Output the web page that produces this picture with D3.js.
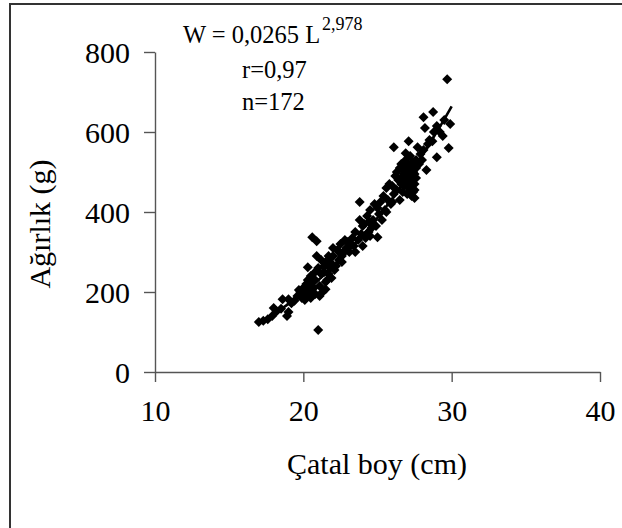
<!DOCTYPE html>
<html>
<head>
<meta charset="utf-8">
<script src="https://cdn.jsdelivr.net/npm/d3@7/dist/d3.min.js"></script>
<style>
  html, body { margin: 0; padding: 0; background: #fff; }
  svg { display: block; }
  svg text { font-family: "Liberation Serif", "Times New Roman", serif !important; fill: #000; }
</style>
</head>
<body>
<svg id="chart" width="622" height="528"></svg>
<script>
// ---- Data ----
const lengthCm = [
  17.0,17.3,17.6,17.9,18.0,18.2,18.5,18.6,18.9,19.0,19.0,19.2,19.4,
  19.6,19.8,19.9,20.0,20.0,20.1,20.2,20.2,20.3,20.3,20.4,20.4,20.5,20.5,20.6,20.6,
  20.7,20.8,20.8,20.9,20.9,21.0,21.1,21.0,21.1,21.3,21.2,21.5,21.6,21.4,21.5,21.7,21.8,21.9,21.5,22.0,21.9,22.1,
  21.7,22.2,22.0,22.4,22.3,22.6,22.5,22.7,22.6,22.8,22.9,23.0,23.1,23.2,23.3,23.4,
  23.5,23.5,23.7,23.8,23.9,23.8,24.0,24.1,24.2,24.3,24.4,24.4,24.5,24.6,24.7,24.8,24.9,25.0,25.0,25.1,
  25.3,25.4,25.5,25.6,25.7,25.8,25.9,26.0,26.1,26.2,26.3,26.4,26.5,26.5,
  26.6,26.6,26.7,26.7,26.8,26.8,26.9,26.9,27.0,27.0,27.0,27.1,27.1,27.2,27.2,27.3,27.3,27.4,27.4,27.5,27.5,27.6,27.6,26.1,26.9,27.1,27.7,27.3,27.5,
  27.8,27.9,28.0,28.1,28.2,28.1,28.3,28.4,28.5,28.7,28.75,28.8,29.0,29.0,29.2,29.4,29.5,29.7,29.8,29.9,
  19.7,20.1,20.6,20.8,21.2,21.4,21.8,22.4,
  24.0,24.5,25.2,25.6,26.0,26.3,
  26.8,27.0,27.2,27.4,27.6,26.7,27.1,27.5
];
const weightG = [
  125,128,132,140,160,152,158,182,140,150,182,172,178,
  190,200,185,210,195,205,220,190,262,230,215,200,240,185,337,225,
  210,195,250,327,290,105,215,260,190,200,280,207,230,250,275,245,260,235,225,290,270,255,
  290,265,310,280,305,275,320,300,290,330,310,325,300,320,335,315,
  300,350,330,380,345,425,315,370,335,390,350,375,405,360,380,420,365,337,410,395,
  380,440,405,460,430,470,420,465,445,490,455,480,510,430,
  470,520,450,490,505,465,480,530,445,500,470,515,460,490,540,475,505,450,525,495,470,510,485,562,547,577,562,440,435,
  520,545,530,555,610,637,505,570,580,577,650,600,537,615,600,590,630,732,560,620,
  205,180,200,230,245,265,275,300,
  365,340,425,400,425,500,
  495,520,465,500,530,510,485,455
];
// Fitted model shown on the chart: W = a L^b
const fitA = 0.0265, fitB = 2.978;
const fitLengths = [17,17.5,18,18.5,19,19.5,20,20.5,21,21.5,22,22.5,23,23.5,24,24.5,25,25.5,26,26.5,27,27.5,28,28.5,29,29.5,30];
const xTicks = [10, 20, 30, 40];
const yTicks = [0, 200, 400, 600, 800];
const labels = { eq: "W = 0,0265 L", exp: "2,978", r: "r=0,97", n: "n=172", x: "Çatal boy (cm)", y: "Ağırlık (g)" };

// ---- Drawing ----
const FONT = "'Liberation Serif', 'Times New Roman', serif";
const svg = d3.select("#chart");
// outer frame (only left/top visible inside the picture)
svg.append("rect").attr("x", 10).attr("y", 4).attr("width", 640).attr("height", 560)
  .attr("fill", "none").attr("stroke", "#333").attr("stroke-width", 2);

const x = d3.scaleLinear().domain([10, 40]).range([155, 600]);
const y = d3.scaleLinear().domain([0, 800]).range([372, 52]);

const axisColor = "#555";
const gx = svg.append("g").attr("transform", "translate(0,372)")
  .call(d3.axisBottom(x).tickValues(xTicks).tickSize(10).tickSizeOuter(0).tickPadding(18));
const gy = svg.append("g").attr("transform", "translate(155,0)")
  .call(d3.axisLeft(y).tickValues(yTicks).tickSize(11).tickSizeOuter(0).tickPadding(14));
[gx, gy].forEach(g => {
  g.attr("font-family", FONT).attr("font-size", 30);
  g.select(".domain").attr("stroke", axisColor).attr("stroke-width", 1.4);
  g.selectAll(".tick line").attr("stroke", axisColor).attr("stroke-width", 1.4);
  g.selectAll(".tick text").attr("font-family", FONT).style("font-family", FONT)
    .style("font-size", "30px").attr("fill", "#000");
});
gy.selectAll(".tick text").attr("dy", "0.34em");

// points
const pts = lengthCm.map((L, i) => ({ L, W: weightG[i] }));
svg.append("g").selectAll("path").data(pts).join("path")
  .attr("transform", d => `translate(${x(d.L)},${y(d.W)})`)
  .attr("d", "M0,-5L5,0L0,5L-5,0Z")
  .attr("fill", "#000");

// fit curve
const line = d3.line().x(d => x(d)).y(d => y(fitA * Math.pow(d, fitB))).curve(d3.curveMonotoneX);
svg.append("path").datum(fitLengths).attr("d", line)
  .attr("fill", "none").attr("stroke", "#000").attr("stroke-width", 2.6);

// annotation
const txt = (xx, yy, size, s, anchor) => svg.append("text").attr("x", xx).attr("y", yy)
  .attr("font-family", FONT).style("font-family", FONT).style("font-size", size + "px")
  .attr("text-anchor", anchor || "start").text(s);
txt(183, 43, 24.5, labels.eq);
txt(322, 30, 18, labels.exp);
txt(242, 78, 24.5, labels.r);
txt(242, 110, 24.5, labels.n);

// axis titles
txt(377, 474, 30, labels.x, "middle");
svg.append("text").attr("transform", "translate(50,224) rotate(-90)").attr("text-anchor", "middle")
  .attr("font-family", FONT).style("font-family", FONT).style("font-size", "30px").text(labels.y);
</script>
</body>
</html>
